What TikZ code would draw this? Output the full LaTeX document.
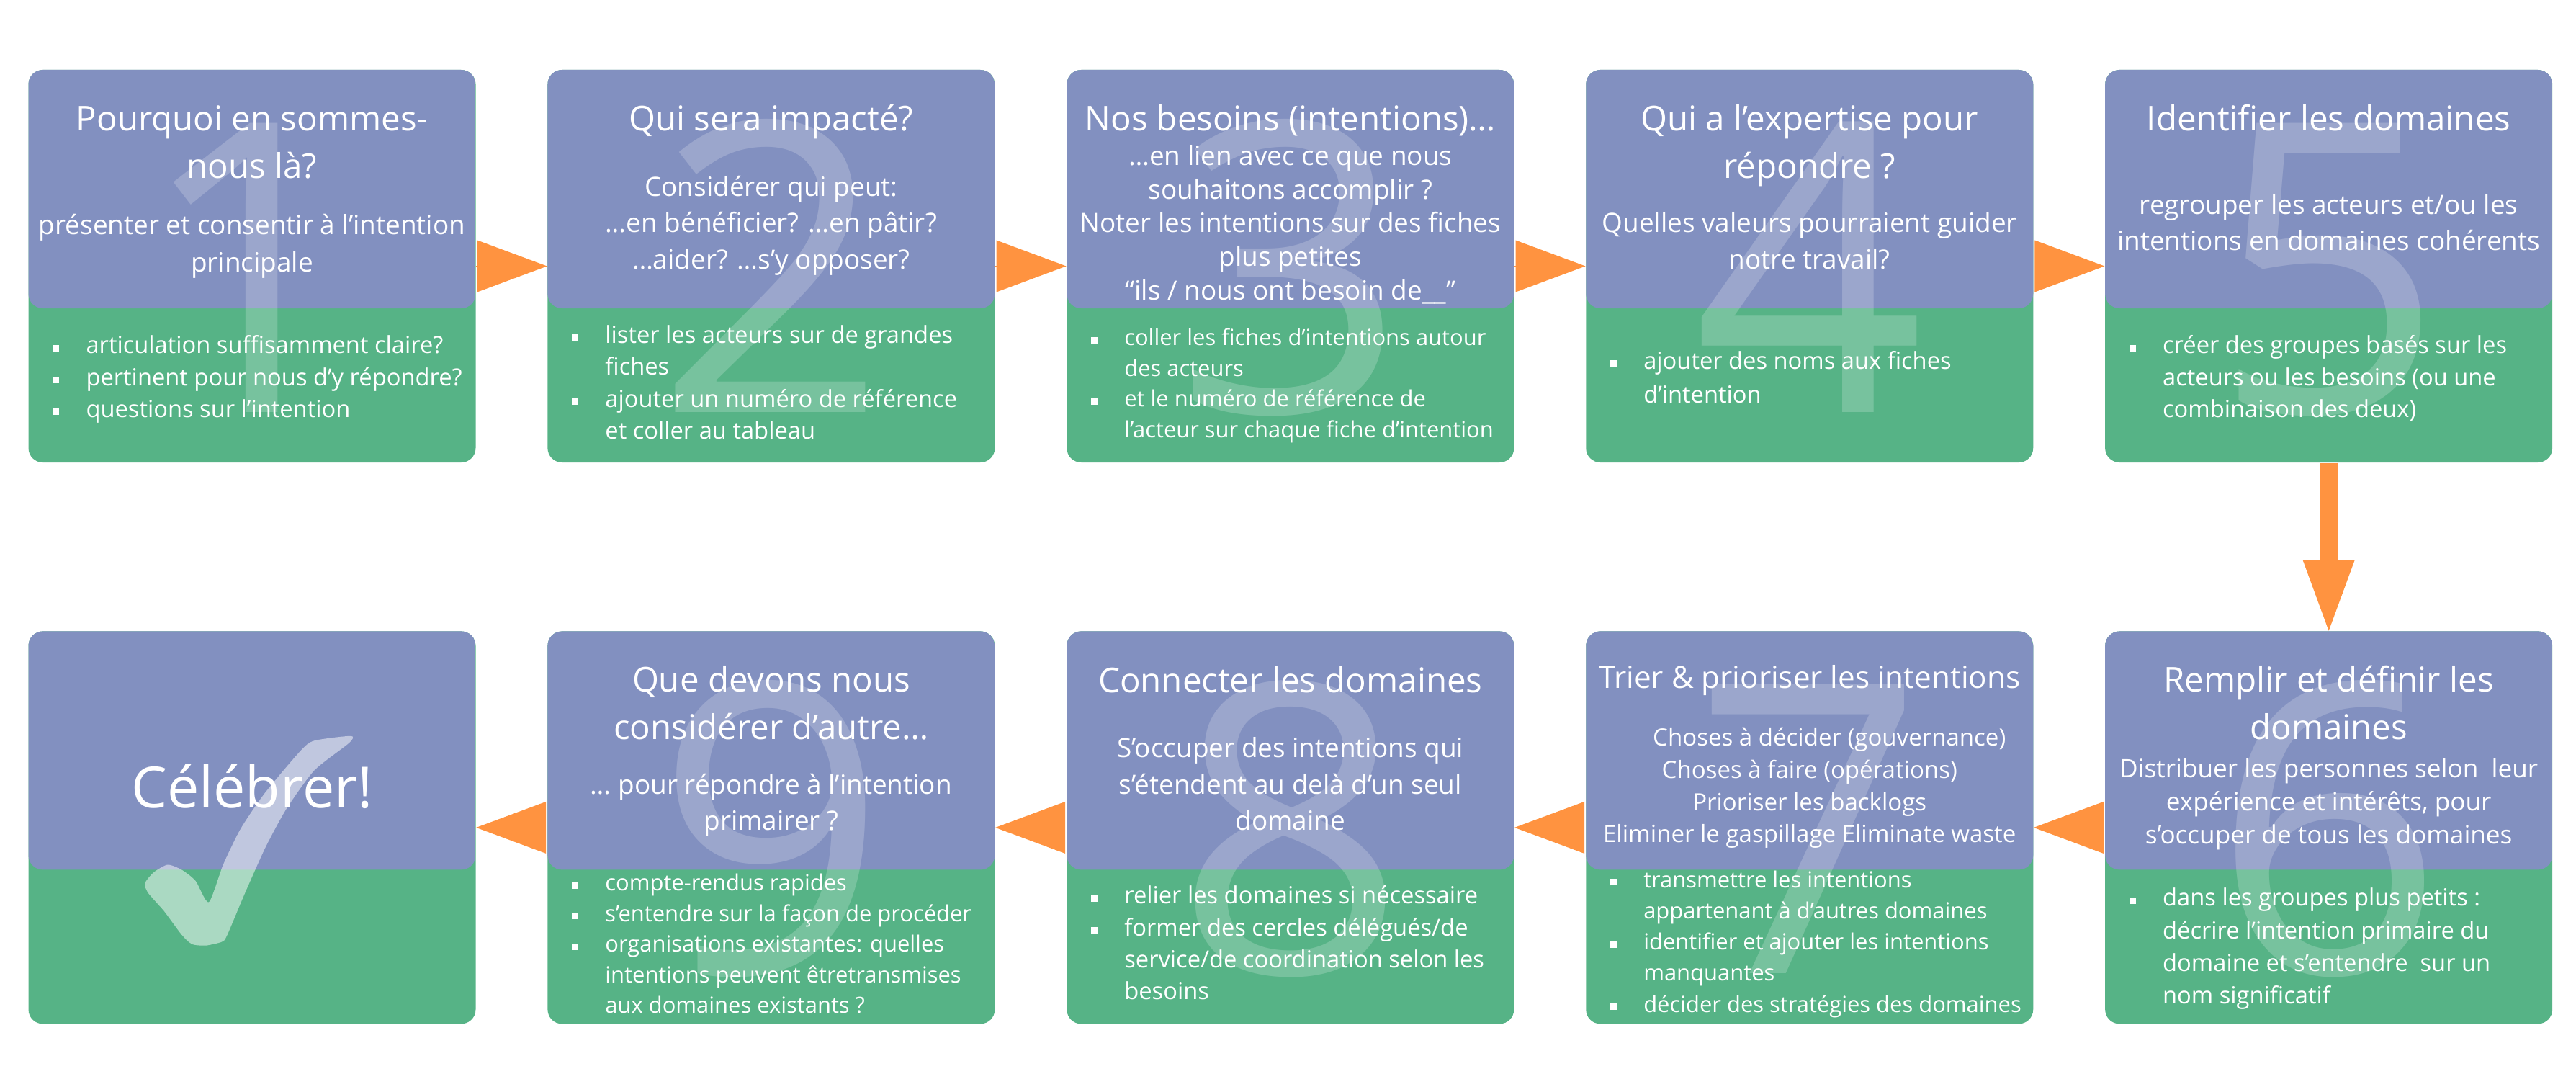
\documentclass[tikz,border=0pt]{standalone}
\usepackage{fontspec}
\setmainfont{Open Sans}
\usetikzlibrary{positioning,arrows.meta}

\definecolor{bleu}{HTML}{8290C0}
\definecolor{vert}{HTML}{56B386}
\definecolor{fleche}{HTML}{FF9340}

\newcommand{\carre}{\llap{\rule[0.03cm]{0.09cm}{0.09cm}\hspace{0.37cm}}}

\begin{document}
\begin{tikzpicture}[
            node distance=2.33cm and 0.985cm,
            box/.style={rectangle, rounded corners=0.2cm, fill=vert, minimum width=6.21cm, minimum height=5.45cm, inner sep=0pt,
              path picture={\fill[bleu] (path picture bounding box.north west) rectangle ([yshift=-3.31cm]path picture bounding box.north east);}},
            titre/.style={anchor=base, align=center, text=white, inner sep=0pt, font=\fontsize{13.5}{18.8}\selectfont},
            sous/.style={anchor=base, align=center, text=white, inner sep=0pt, font=\fontsize{10.5}{14.4}\selectfont},
            liste/.style={anchor=base west, align=left, text=white, inner sep=0pt, font=\fontsize{9.3}{12.6}\selectfont},
            chiffre/.style={anchor=base, text=white, text opacity=0.2, inner sep=0pt, font=\fontsize{160}{160}\selectfont},
            arrow/.style={-{Triangle[length=0.97cm, width=0.72cm, line width=0pt]}, line width=0.1pt, fleche},
            arrowdown/.style={-{Triangle[length=0.98cm, width=0.72cm, line width=0pt]}, line width=0.24cm, fleche}
        ]
        \useasboundingbox (0,0) rectangle (35.77,-15.16);

        % Main process boxes
        \node[box] (pourquoi) at (3.50,-3.695) {};
        \node[box, right=of pourquoi] (impact) {};
        \node[box, right=of impact] (besoins) {};
        \node[box, right=of besoins] (expertise) {};
        \node[box, right=of expertise] (identifier) {};
        \node[box, below=of identifier] (remplir) {};
        \node[box, left=of remplir] (trier) {};
        \node[box, left=of trier] (connecter) {};
        \node[box, left=of connecter] (autre) {};
        \node[box, left=of autre] (celebrer) {};

        % Step numbers
        \node[chiffre] (n1) at ([yshift=-2.03cm]pourquoi.center) {1};
        \node[chiffre] (n2) at ([yshift=-2.03cm]impact.center) {2};
        \node[chiffre] (n3) at ([yshift=-2.03cm]besoins.center) {3};
        \node[chiffre] (n4) at ([yshift=-2.03cm]expertise.center) {4};
        \node[chiffre] (n5) at ([yshift=-2.03cm]identifier.center) {5};
        \node[chiffre] (n6) at ([yshift=-2.03cm]remplir.center) {6};
        \node[chiffre] (n7) at ([yshift=-2.03cm]trier.center) {7};
        \node[chiffre] (n8) at ([yshift=-2.03cm]connecter.center) {8};
        \node[chiffre] (n9) at ([yshift=-2.03cm]autre.center) {9};

        % Check mark
        \fill[white, fill opacity=0.5] plot[smooth cycle, tension=0.4] coordinates {
            (4.872,-10.218) (4.363,-10.283) (4.169,-10.428) (3.684,-11.002) (3.345,-11.50) (3.102,-11.997)
            (2.899,-12.525) (2.714,-12.227) (2.52,-12.074) (2.327,-12.005) (2.133,-12.112) (2.012,-12.265)
            (2.06,-12.40) (2.278,-12.648) (2.52,-12.973) (2.666,-13.107) (2.86,-13.126) (3.078,-13.076)
            (3.15,-12.992) (3.393,-12.418) (3.684,-11.768) (3.975,-11.232) (4.363,-10.696) (4.847,-10.314)};

        % Step 1
        \node[titre] (pourquoi-t) at ([yshift=-1.515cm]pourquoi.north) {Pourquoi en sommes-\\nous là?};
        \node[sous, font=\fontsize{10.5}{14.8}\selectfont] (pourquoi-s) at ([yshift=-2.81cm]pourquoi.north) {présenter et consentir à l’intention\\principale};
        \node[liste] (pourquoi-l) at ([xshift=0.80cm, yshift=-4.83cm]pourquoi.north west) {\carre articulation suffisamment claire?\\\carre pertinent pour nous d’y répondre?\\\carre questions sur l’intention};

        % Step 2
        \node[titre] (impact-t) at ([yshift=-0.85cm]impact.north) {Qui sera impacté?};
        \node[sous] (impact-s) at ([yshift=-2.77cm]impact.north) {Considérer qui peut:\\…en bénéficier? …en pâtir?\\…aider? …s’y opposer?};
        \node[liste] (impact-l) at ([xshift=0.80cm, yshift=-5.13cm]impact.north west) {\carre lister les acteurs sur de grandes\\fiches\\\carre ajouter un numéro de référence\\et coller au tableau};

        % Step 3
        \node[titre] (besoins-t) at ([yshift=-0.85cm]besoins.north) {Nos besoins (intentions)…};
        \node[sous, font=\fontsize{10.5}{13.3}\selectfont] (besoins-s) at ([yshift=-3.20cm]besoins.north) {…en lien avec ce que nous\\souhaitons accomplir ?\\Noter les intentions sur des fiches\\plus petites\\“ils / nous ont besoin de\_\_”};
        \node[liste, font=\fontsize{8.8}{12.1}\selectfont] (besoins-l) at ([xshift=0.80cm, yshift=-5.11cm]besoins.north west) {\carre coller les fiches d’intentions autour\\des acteurs\\\carre et le numéro de référence de\\l’acteur sur chaque fiche d’intention};

        % Step 4
        \node[titre] (expertise-t) at ([yshift=-1.515cm]expertise.north) {Qui a l’expertise pour\\répondre ?};
        \node[sous] (expertise-s) at ([yshift=-2.77cm]expertise.north) {Quelles valeurs pourraient guider\\notre travail?};
        \node[liste, font=\fontsize{9.3}{13.4}\selectfont] (expertise-l) at ([xshift=0.80cm, yshift=-4.63cm]expertise.north west) {\carre ajouter des noms aux fiches\\d’intention};

        % Step 5
        \node[titre] (identifier-t) at ([yshift=-0.85cm]identifier.north) {Identifier les domaines};
        \node[sous] (identifier-s) at ([yshift=-2.515cm]identifier.north) {regrouper les acteurs et/ou les\\intentions en domaines cohérents};
        \node[liste] (identifier-l) at ([xshift=0.80cm, yshift=-4.83cm]identifier.north west) {\carre créer des groupes basés sur les\\acteurs ou les besoins (ou une\\combinaison des deux)};

        % Step 6
        \node[titre] (remplir-t) at ([yshift=-1.506cm]remplir.north) {Remplir et définir les\\domaines};
        \node[sous, font=\fontsize{10}{13.1}\selectfont] (remplir-s) at ([yshift=-2.96cm]remplir.north) {Distribuer les personnes selon\ \ leur\\expérience et intérêts, pour\\s’occuper de tous les domaines};
        \node[liste, font=\fontsize{9.3}{12.9}\selectfont] (remplir-l) at ([xshift=0.80cm, yshift=-5.18cm]remplir.north west) {\carre dans les groupes plus petits :\\décrire l’intention primaire du\\domaine et s’entendre\ \ sur un\\nom significatif};

        % Step 7
        \node[titre, font=\fontsize{12}{16}\selectfont] (trier-t) at ([yshift=-0.80cm]trier.north) {Trier \& prioriser les intentions};
        \node[sous, font=\fontsize{9.4}{12.7}\selectfont] (trier-s) at ([yshift=-2.94cm]trier.north) {\hspace*{0.55cm}Choses à décider (gouvernance)\\Choses à faire (opérations)\\Prioriser les backlogs\\Eliminer le gaspillage Eliminate waste};
        \node[liste, font=\fontsize{8.8}{12.3}\selectfont] (trier-l) at ([xshift=0.80cm, yshift=-5.295cm]trier.north west) {\carre transmettre les intentions\\appartenant à d’autres domaines\\\carre identifier et ajouter les intentions\\manquantes\\\carre décider des stratégies des domaines};

        % Step 8
        \node[titre] (connecter-t) at ([yshift=-0.855cm]connecter.north) {Connecter les domaines};
        \node[sous] (connecter-s) at ([yshift=-2.77cm]connecter.north) {S’occuper des intentions qui\\s’étendent au delà d’un seul\\domaine};
        \node[liste] (connecter-l) at ([xshift=0.80cm, yshift=-5.12cm]connecter.north west) {\carre relier les domaines si nécessaire\\\carre former des cercles délégués/de\\service/de coordination selon les\\besoins};

        % Step 9
        \node[titre] (autre-t) at ([yshift=-1.506cm]autre.north) {Que devons nous\\considérer d’autre…};
        \node[sous] (autre-s) at ([yshift=-2.77cm]autre.north) {… pour répondre à l’intention\\primairer ?};
        \node[liste, font=\fontsize{8.8}{12.1}\selectfont] (autre-l) at ([xshift=0.80cm, yshift=-5.31cm]autre.north west) {\carre compte-rendus rapides\\\carre s’entendre sur la façon de procéder\\\carre organisations existantes: quelles\\intentions peuvent êtretransmises\\aux domaines existants ?};

        % Last step
        \node[titre, font=\fontsize{22.5}{27}\selectfont] (celebrer-t) at ([yshift=-2.46cm]celebrer.north) {Célébrer!};

        % Arrows between boxes
        \draw[arrow] (pourquoi) -- (impact);
        \draw[arrow] (impact) -- (besoins);
        \draw[arrow] (besoins) -- (expertise);
        \draw[arrow] (expertise) -- (identifier);
        \draw[arrowdown] (identifier) -- (remplir);
        \draw[arrow] (remplir) -- (trier);
        \draw[arrow] (trier) -- (connecter);
        \draw[arrow] (connecter) -- (autre);
        \draw[arrow] (autre) -- (celebrer);

    \end{tikzpicture}
\end{document}
